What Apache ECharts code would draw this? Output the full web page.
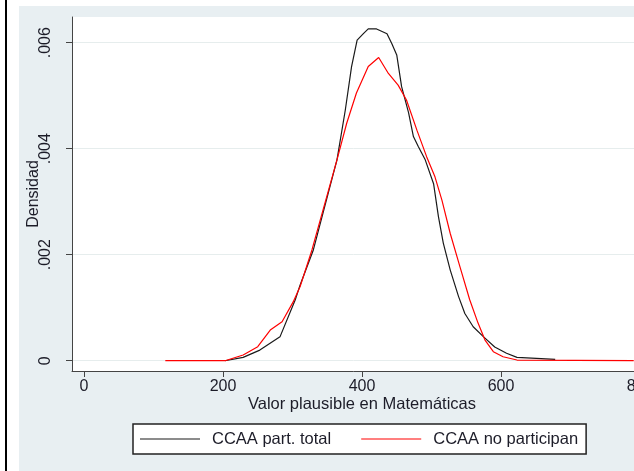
<!DOCTYPE html>
<html>
<head>
<meta charset="utf-8">
<script src="https://cdn.jsdelivr.net/npm/echarts@6/dist/echarts.min.js"></script>
<style>
  html, body { margin: 0; padding: 0; background: #fff; }
  #chart { width: 634px; height: 471px; }
</style>
</head>
<body>
<div id="chart"></div>
<script>
// Kernel density estimates of the maths plausible value
const totalX = [203, 229, 253, 282, 304, 311, 330, 364, 376, 385, 393, 402, 409, 421, 436, 443, 450, 457, 467, 474, 481, 491, 503, 510, 517, 527, 539, 548, 560, 575, 591, 608, 623, 651, 678];
const totalDens = [0, 0.000064, 0.0002, 0.00045, 0.00115, 0.00143, 0.00209, 0.00379, 0.00473, 0.00555, 0.00605, 0.00617, 0.00626, 0.00626, 0.00617, 0.00598, 0.00577, 0.00517, 0.00468, 0.00423, 0.00404, 0.00379, 0.00334, 0.00272, 0.00222, 0.00171, 0.00121, 0.00089, 0.00064, 0.00045, 0.00026, 0.00014, 0.000064, 0.000045, 0.000026];

const noPartX = [117, 167, 203, 229, 250, 268, 285, 301, 311, 328, 364, 378, 392, 409, 424, 438, 452, 464, 479, 493, 505, 515, 527, 541, 555, 567, 577, 589, 603, 623, 791];
const noPartDens = [0, 0, 0, 0.000108, 0.000264, 0.000579, 0.000736, 0.00111, 0.0014, 0.00209, 0.00379, 0.00448, 0.00505, 0.00555, 0.00572, 0.00542, 0.0052, 0.00492, 0.00435, 0.00385, 0.00347, 0.00303, 0.0024, 0.00177, 0.00115, 0.00071, 0.00039, 0.00017, 0.000075, 0.000013, 0];

const xTicks = [0, 200, 400, 600, 800];
const yTicks = [0, 0.002, 0.004, 0.006];
const seriesNames = ['CCAA part. total', 'CCAA no participan'];

const pairs = (xs, ys) => xs.map((x, i) => [x, ys[i]]);
const FONT = 'Liberation Sans, Arial, sans-serif';
const TEXT = '#1c1c28';

const chart = echarts.init(document.getElementById('chart'), null, { renderer: 'canvas' });

chart.setOption({
  backgroundColor: '#fff',
  animation: false,
  graphic: [
    { type: 'rect', z: -100, shape: { x: 19, y: 6, width: 615, height: 465 }, style: { fill: '#e8eff2' } },
    { type: 'rect', z: -90, shape: { x: 5, y: 0, width: 2, height: 471 }, style: { fill: '#000' } }
  ],
  grid: {
    left: 72, top: 17, width: 580, height: 354,
    outerBoundsMode: 'none',
    show: true, backgroundColor: '#fff', borderWidth: 0
  },
  xAxis: {
    type: 'value',
    min: -17.27, max: 817.3,
    name: 'Valor plausible en Matemáticas',
    nameLocation: 'middle', nameGap: 25, nameMoveOverlap: false,
    nameTextStyle: { fontFamily: FONT, fontSize: 16.5, color: TEXT, verticalAlign: 'top' },
    axisLine: { show: true, onZero: false, lineStyle: { color: '#444', width: 1 } },
    axisTick: { show: true, length: 6, customValues: xTicks, lineStyle: { color: '#444' } },
    axisLabel: { customValues: xTicks, margin: 8, fontFamily: FONT, fontSize: 16, color: TEXT },
    splitLine: { show: false }
  },
  yAxis: {
    type: 'value',
    min: -0.000194, max: 0.006485,
    name: 'Densidad',
    nameLocation: 'middle', nameRotate: 90, nameGap: 30, nameMoveOverlap: false,
    nameTextStyle: { fontFamily: FONT, fontSize: 16, color: TEXT },
    axisLine: { show: true, onZero: false, lineStyle: { color: '#444', width: 1 } },
    axisTick: { show: true, length: 6, customValues: yTicks, lineStyle: { color: '#444' } },
    axisLabel: {
      customValues: yTicks, rotate: 90, margin: 18,
      fontFamily: FONT, fontSize: 16, color: TEXT,
      formatter: v => (v === 0 ? '0' : v.toFixed(3).replace(/^0/, ''))
    },
    splitLine: { show: true, lineStyle: { color: '#e6eded', width: 1 } }
  },
  legend: {
    left: 133, top: 424,
    orient: 'horizontal',
    data: seriesNames,
    icon: 'rect',
    itemWidth: 60, itemHeight: 1.2, itemGap: 30,
    padding: [5, 8, 5, 7],
    backgroundColor: '#fff',
    borderColor: '#222', borderWidth: 1.5,
    textStyle: { fontFamily: FONT, fontSize: 16.5, color: TEXT, lineHeight: 20, padding: [0, 0, 0, 7] }
  },
  series: [
    {
      name: seriesNames[0], type: 'line', data: pairs(totalX, totalDens),
      showSymbol: false, smooth: false,
      lineStyle: { color: '#1a1a1a', width: 1.2 }, itemStyle: { color: '#1a1a1a' }
    },
    {
      name: seriesNames[1], type: 'line', data: pairs(noPartX, noPartDens),
      showSymbol: false, smooth: false,
      lineStyle: { color: '#ff0000', width: 1.2 }, itemStyle: { color: '#ff0000' }
    }
  ]
});
</script>
</body>
</html>
